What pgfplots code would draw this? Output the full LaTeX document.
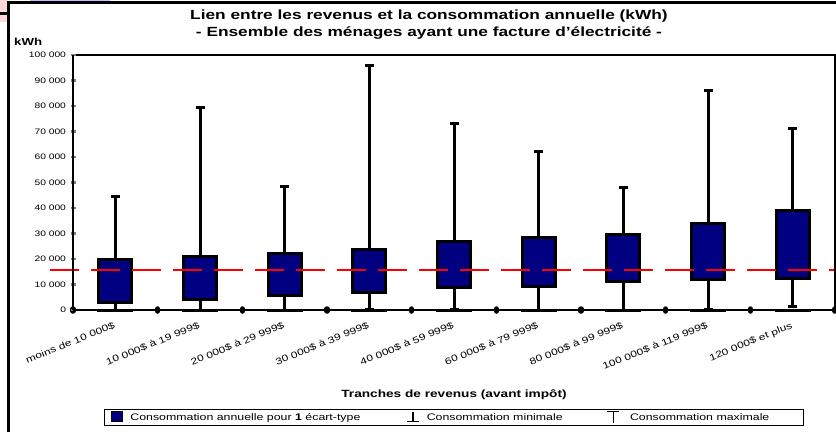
\documentclass[border=0pt]{standalone}
\usepackage{fontspec}
\setmainfont[FakeStretch=1.3]{Liberation Sans}
\usepackage{pgfplots}
\pgfplotsset{compat=1.18}
\usepackage{pgfplotstable}
\definecolor{navybox}{RGB}{0,0,128}

\pgfplotstableread{
cat low high min max
0 3100 20000 0 44700
1 4300 20800 0 79600
2 5500 22300 0 48300
3 6700 23900 300 96000
4 9000 26700 300 73300
5 9400 28300 0 62000
6 11000 29800 0 48200
7 12100 34100 300 85900
8 12500 39200 1200 71000
}\boxdata

\pgfplotstableread{
x y
-0.77 15700
8.5 15700
}\avgline

\begin{document}
\begin{tikzpicture}
\useasboundingbox (0pt,0pt) rectangle (836pt,432pt);
% slide remnants
\fill[red!15] (0pt,410pt) rectangle (8pt,432pt);
\fill[blue!25] (30pt,430pt) rectangle (110pt,432pt);
\draw[line width=3pt] (0pt,418pt) -- (8pt,418pt);
\draw[line width=3pt] (8pt,0pt) -- (8pt,429pt) -- (836pt,429pt);
% titles
\node[font=\bfseries\fontsize{13.3}{15}\selectfont] at (429pt,416pt) {Lien entre les revenus et la consommation annuelle (kWh)};
\node[font=\bfseries\fontsize{13.3}{15}\selectfont] at (429pt,399pt) {- Ensemble des ménages ayant une facture d'électricité -};
\node[font=\bfseries\fontsize{10.2}{12}\selectfont, anchor=west, inner sep=0pt] at (14pt,390pt) {kWh};
\begin{axis}[
  at={(73pt,122pt)}, anchor=south west,
  width=762pt, height=255pt, scale only axis,
  xmin=-0.5, xmax=8.5, ymin=0, ymax=100000,
  clip=false,
  axis on top,
  axis lines=left,
  axis line style={-, line width=2.6pt},
  /pgf/number format/assume math mode=true,
  /pgf/number format/fixed,
  /pgf/number format/1000 sep={\ },
  scaled y ticks=false,
  ytick={0,10000,20000,30000,40000,50000,60000,70000,80000,90000,100000},
  yticklabel style={font=\fontsize{7.9}{9}\selectfont, xshift=-1pt},
  xtick={0,1,2,3,4,5,6,7,8},
  xticklabels={moins de 10 000\$, 10 000\$ à 19 999\$, 20 000\$ à 29 999\$, 30 000\$ à 39 999\$, 40 000\$ à 59 999\$, 60 000\$ à 79 999\$, 80 000\$ à 99 999\$, 100 000\$ à 119 999\$, 120 000\$ et plus},
  xticklabel style={rotate=22, anchor=north east, font=\fontsize{9.2}{10}\selectfont, yshift=-4pt, xshift=-2pt},
  major x tick style={draw=none},
  minor xtick={-0.5,0.5,1.5,2.5,3.5,4.5,5.5,6.5,7.5,8.5},
  minor x tick style={line width=5.5pt, line cap=round, draw=black},
  minor tick length=2pt,
  major y tick style={line width=2.5pt},
  major tick length=5pt,
  tick align=center,
  xlabel={Tranches de revenus (avant impôt)},
  xlabel style={at={(axis description cs:0.5,-0.333)}, anchor=center, font=\bfseries\fontsize{10.5}{12}\selectfont},
  legend columns=3,
  legend style={at={(axis description cs:0.5,-0.4216)}, anchor=center, draw=black, line width=1pt,
    font=\fontsize{9.5}{11}\selectfont, inner ysep=2pt, inner xsep=6pt,
    /tikz/every even column/.style={column sep=0pt},
    /tikz/every odd column/.style={column sep=0pt}},
]
\addlegendimage{legend image code/.code={\draw[fill=navybox, draw=black, line width=0.8pt] (0pt,-4pt) rectangle (11pt,6pt);}}
\addlegendentry{\hspace*{6pt}Consommation annuelle pour \textbf{1} écart-type\hspace*{44pt}}
\addlegendimage{legend image code/.code={\draw[line width=1.4pt] (0pt,-4pt) -- (12pt,-4pt) (6pt,-4pt) -- (6pt,6pt);}}
\addlegendentry{\hspace*{5pt}Consommation minimale\hspace*{42pt}}
\addlegendimage{legend image code/.code={\draw[line width=1.4pt] (0pt,6pt) -- (12pt,6pt) (6pt,6pt) -- (6pt,-5pt);}}
\addlegendentry{\hspace*{8pt}Consommation maximale\hspace*{26pt}}
% upper whiskers (to the maximum)
\addplot[forget plot, draw=none,
  error bars/.cd, y dir=plus, y explicit, error mark=none,
  error bar style={line width=3pt, draw=black}]
  table[x=cat, y=high, y error expr=\thisrow{max}-\thisrow{high}] {\boxdata};
\addplot[forget plot, only marks, mark=-, mark size=4.5pt, mark options={line width=3pt, draw=black}]
  table[x=cat, y=max] {\boxdata};
% boxes: mean +/- 1 standard deviation
\addplot[forget plot, ybar, bar width=33pt, bar shift=0pt, fill=navybox, draw=black, line width=3pt]
  table[x=cat, y=high] {\boxdata};
\addplot[forget plot, ybar, bar width=39pt, bar shift=0pt, fill=white, draw=none]
  table[x=cat, y=low] {\boxdata};
\addplot[forget plot, only marks, mark=-, mark size=18pt, mark options={line width=3pt, draw=black}]
  table[x=cat, y=low] {\boxdata};
% lower whiskers (to the minimum)
\addplot[forget plot, draw=none,
  error bars/.cd, y dir=minus, y explicit, error mark=none,
  error bar style={line width=3pt, draw=black}]
  table[x=cat, y=low, y error expr=\thisrow{low}-\thisrow{min}] {\boxdata};
\addplot[forget plot, only marks, mark=-, mark size=4.5pt, mark options={line width=3pt, draw=black}]
  table[x=cat, y=min] {\boxdata};
% average consumption
\addplot[forget plot, red, line width=2pt, dash pattern=on 29pt off 12pt] table[x=x, y=y] {\avgline};
\draw[line width=1.5pt] (rel axis cs:0,1) -- (rel axis cs:1,1) -- (rel axis cs:1,0);
\end{axis}
\end{tikzpicture}
\end{document}
